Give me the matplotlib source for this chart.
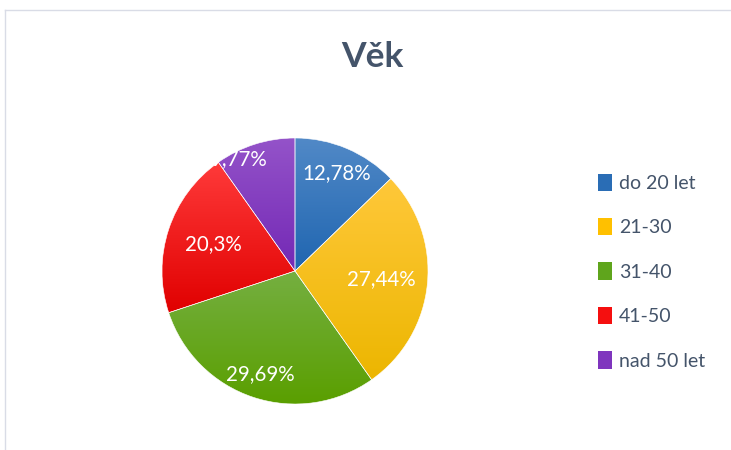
import numpy as np
import matplotlib
matplotlib.use("Agg")
import matplotlib.pyplot as plt
from matplotlib.colors import LinearSegmentedColormap, to_rgb
from matplotlib.patches import Patch
from matplotlib.lines import Line2D

# ---- data ----
title = "Věk"
categories = ["do 20 let", "21-30", "31-40", "41-50", "nad 50 let"]
values = [12.78, 27.44, 29.69, 20.3, 9.77]
value_labels = ["12,78%", "27,44%", "29,69%", "20,3%", "9,77%"]

# ---- style ----
top_colors = ["#5189C7", "#FFC83A", "#75AF41", "#FF3A3A", "#9453C9"]
bot_colors = ["#1F65B0", "#ECB600", "#5A9F00", "#E00000", "#7328B5"]
legend_colors = ["#2A6DB5", "#FFC000", "#5FA51C", "#F50F0F", "#7F35BE"]
label_r = [0.80, 0.65, 0.82, 0.65, 0.94]
label_da = [0, 0, 0, 0, 9]
text_color = "#44546A"
font = ["Lato", "DejaVu Sans"]

fig = plt.figure(figsize=(7.31, 4.5), dpi=100)
fig.patch.set_facecolor("white")

# chart frame (partially visible)
fig.add_artist(Line2D([5/731, 1], [1-10/450, 1-10/450], transform=fig.transFigure,
                      color="#D9DCE6", lw=1))
fig.add_artist(Line2D([5/731, 5/731], [0, 1-10/450], transform=fig.transFigure,
                      color="#D9DCE6", lw=1))

cx, cy, R = 295, 271, 133
ax = fig.add_axes([(cx-R)/731, (450-cy-R)/450, 2*R/731, 2*R/450])
ax.set_xlim(-1, 1)
ax.set_ylim(-1, 1)
ax.set_aspect("equal")
ax.axis("off")

wedges, _ = ax.pie(values, startangle=90, counterclock=False, radius=1,
                   wedgeprops=dict(edgecolor="white", linewidth=0.4))
fig.canvas.draw()
for i, w in enumerate(wedges):
    w.set_facecolor("none")
    path = w.get_path().transformed(w.get_patch_transform())
    ext = path.get_extents()
    cmap = LinearSegmentedColormap.from_list("g", [to_rgb(bot_colors[i]), to_rgb(top_colors[i])])
    grad = np.linspace(0, 1, 256).reshape(-1, 1)
    im = ax.imshow(grad, cmap=cmap, origin="lower", aspect="auto",
                   extent=[ext.x0, ext.x1, ext.y0, ext.y1], zorder=0.5, interpolation="bilinear")
    im.set_clip_path(w)
    w.set_zorder(1)

ax.set_xlim(-1, 1)
ax.set_ylim(-1, 1)

total = sum(values)
cum = 0
for i, v in enumerate(values):
    mid = 90 - 360 * (cum + v / 2) / total + label_da[i]
    cum += v
    r = label_r[i]
    ax.text(r*np.cos(np.radians(mid)), r*np.sin(np.radians(mid)), value_labels[i],
            ha="center", va="center", color="white", fontsize=14.8, family=font, zorder=3)

fig.text(372/731, 1-57/450, title, ha="center", va="center", fontsize=25.5,
         fontweight="bold", color=text_color, family=font)

handles = [Patch(facecolor=c, edgecolor="none") for c in legend_colors]
leg = fig.legend(handles, categories, loc="upper left", bbox_to_anchor=(580/731, 1-156/450),
                 frameon=False, prop=dict(family=font, size=14), labelcolor=text_color,
                 handlelength=0.75, handleheight=1.0, handletextpad=0.35, labelspacing=1.34)

fig.savefig("out.png", dpi=100, facecolor="white")
